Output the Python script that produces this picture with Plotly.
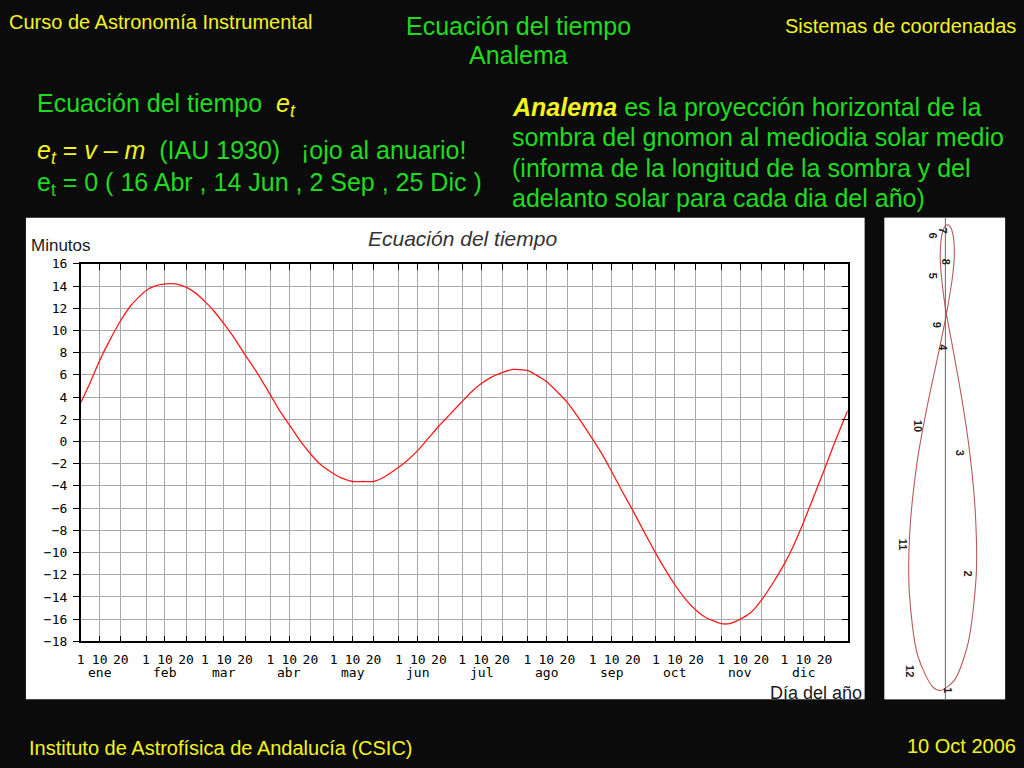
import plotly.graph_objects as go

# ---------------- data ----------------
months = ["ene", "feb", "mar", "abr", "may", "jun", "jul", "ago", "sep", "oct", "nov", "dic"]
month_start_doy = [1, 32, 60, 91, 121, 152, 182, 213, 244, 274, 305, 335]
tick_day_labels = ["1", "10", "20"]
tick_day_offsets = [0, 9, 19]

# Equation of time (minutes) vs day of year
eot_day = [1, 5, 10, 15, 20, 25,
           32, 36, 41, 46, 51, 56,
           60, 64, 69, 74, 79, 84,
           91, 95, 100, 105, 110, 115,
           121, 125, 130, 135, 140, 145,
           152, 156, 161, 166, 171, 176,
           182, 186, 191, 196, 201, 206,
           213, 217, 222, 227, 232, 237,
           244, 248, 253, 258, 263, 268,
           274, 278, 283, 288, 293, 298,
           305, 309, 314, 319, 324, 329,
           335, 339, 344, 349, 354, 359, 365]
eot_min = [3.5, 5.1, 7.3, 9.2, 10.9, 12.3,
           13.6, 14.0, 14.2, 14.2, 13.9, 13.3,
           12.6, 11.8, 10.6, 9.3, 7.8, 6.4,
           4.2, 2.9, 1.5, 0.1, -1.1, -2.1,
           -2.9, -3.3, -3.6, -3.6, -3.6, -3.2,
           -2.3, -1.7, -0.8, 0.3, 1.4, 2.4,
           3.6, 4.4, 5.2, 5.8, 6.2, 6.5,
           6.4, 6.0, 5.4, 4.5, 3.5, 2.2,
           0.2, -1.0, -2.7, -4.5, -6.2, -8.0,
           -10.1, -11.4, -12.9, -14.2, -15.2, -15.9,
           -16.4, -16.4, -16.0, -15.4, -14.3, -12.9,
           -11.0, -9.5, -7.3, -4.9, -2.5, 0.0, 2.8]
y_ticks = [-18, -16, -14, -12, -10, -8, -6, -4, -2, 0, 2, 4, 6, 8, 10, 12, 14, 16]

# Analemma: lateral offset of shadow tip / shadow length (gnomon = 1)
ana_x = [0.028, 0.071, 0.097, 0.094, 0.077, 0.053, 0.022, 0.0005, -0.013, -0.016,
         -0.0096, 0.0012, 0.0066, 0.015, 0.0245, 0.028, 0.021, 0.001, -0.024, -0.058,
         -0.088, -0.112, -0.113, -0.087, -0.040, -0.0155, 0.028]
ana_y = [1.746, 1.625, 1.397, 1.192, 1.000, 0.827, 0.644, 0.521, 0.408, 0.333,
         0.272, 0.247, 0.245, 0.251, 0.281, 0.348, 0.427, 0.552, 0.680, 0.848,
         1.021, 1.262, 1.460, 1.664, 1.767, 1.779, 1.746]
ana_labels = ["7", "6", "8", "5", "9", "4", "10", "3", "11", "2", "12", "1"]
ana_label_x = [-0.006, -0.038, 0.003, -0.038, -0.028, -0.006, -0.088, 0.047, -0.134, 0.072, -0.109, 0.006]
ana_label_y = [0.265, 0.281, 0.368, 0.414, 0.576, 0.650, 0.909, 0.997, 1.298, 1.395, 1.714, 1.779]

# ---------------- figure ----------------
W, H = 1024, 768
def px(x):
    return x / W
def py(y):
    return 1 - y / H

tickvals, ticktext = [], []
for start in month_start_doy:
    for lab, off in zip(tick_day_labels, tick_day_offsets):
        tickvals.append(start + off)
        ticktext.append(lab)

fig = go.Figure()
fig.add_trace(go.Scatter(x=eot_day, y=eot_min, mode="lines",
                         line=dict(color="#ff1a1a", width=1.3, shape="spline", smoothing=0.5),
                         xaxis="x", yaxis="y", showlegend=False, hoverinfo="skip"))
# dummy trace for right-side tick axis
fig.add_trace(go.Scatter(x=[eot_day[0]], y=[eot_min[0]], mode="markers", opacity=0,
                         xaxis="x", yaxis="y3", showlegend=False, hoverinfo="skip"))
# analemma
fig.add_trace(go.Scatter(x=ana_x, y=ana_y, mode="lines",
                         line=dict(color="#b85a5a", width=1.1, shape="spline", smoothing=0.8),
                         xaxis="x2", yaxis="y2", showlegend=False, hoverinfo="skip"))

mono = "DejaVu Sans Mono"
fig.update_layout(
    width=W, height=H, margin=dict(l=0, r=0, t=0, b=0),
    paper_bgcolor="#0b0b0b", plot_bgcolor="white",
    xaxis=dict(domain=[px(77), px(847)], range=[1, 365], anchor="y",
               tickmode="array", tickvals=tickvals, ticktext=ticktext,
               ticks="inside", ticklen=6, tickcolor="black", tickwidth=1,
               showline=True, linecolor="black", linewidth=1.5, mirror="ticks",
               showgrid=True, gridcolor="#a9a9a9", gridwidth=1, zeroline=False,
               ticklabelstandoff=5,
               tickfont=dict(family=mono, size=13, color="black"), tickangle=0),
    yaxis=dict(domain=[py(647), py(262)], range=[-18, 16], anchor="x",
               tickmode="array", tickvals=y_ticks,
               ticks="outside", ticklen=6, tickcolor="black",
               showline=True, linecolor="black", linewidth=1.5, mirror=True,
               showgrid=True, gridcolor="#a9a9a9", gridwidth=1, zeroline=False,
               ticklabelstandoff=3,
               tickfont=dict(family=mono, size=13, color="black")),
    yaxis3=dict(overlaying="y", side="right", range=[-18, 16], anchor="x",
                tickmode="array", tickvals=y_ticks, ticks="inside", ticklen=6,
                tickcolor="black", showticklabels=False, showgrid=False,
                zeroline=False, showline=False),
    xaxis2=dict(domain=[px(884), px(1005)], range=[-0.191, 0.1875], anchor="y2",
                visible=False),
    yaxis2=dict(domain=[py(706), py(215)], range=[1.808, 0.222], anchor="x2",
                visible=False),
)

# month names under the "10" tick of each month
for m, start in zip(months, month_start_doy):
    fig.add_annotation(x=start + 9, y=py(670), xref="x", yref="paper", text=m,
                       showarrow=False, yanchor="top", borderpad=0,
                       font=dict(family=mono, size=13, color="black"))

# white panels
fig.add_shape(type="rect", xref="paper", yref="paper", x0=px(22), x1=px(864),
              y0=py(706), y1=py(215), fillcolor="white", line=dict(width=0), layer="below")
fig.add_shape(type="rect", xref="paper", yref="paper", x0=px(884), x1=px(1005),
              y0=py(706), y1=py(215), fillcolor="white", line=dict(width=0), layer="below")
# analemma meridian line
fig.add_shape(type="line", xref="x2", yref="paper", x0=0, x1=0, y0=py(706), y1=py(215),
              line=dict(color="#666666", width=1))

def ann(x, y, text, size, color, xanchor="left", yanchor="middle", family="Liberation Sans", **kw):
    fig.add_annotation(x=px(x), y=py(y), xref="paper", yref="paper", text=text,
                       showarrow=False, xanchor=xanchor, yanchor=yanchor,
                       font=dict(family=family, size=size, color=color), **kw)

# chart texts
ann(25, 243, "Minutos", 17, "#1a1a1a")
ann(460, 236, "<i>Ecuación del tiempo</i>", 21, "#333333", xanchor="center")
ann(862, 711, "Día del año", 18, "#1a1a1a", xanchor="right", yanchor="bottom", borderpad=0)

for t, xv, yv in zip(ana_labels, ana_label_x, ana_label_y):
    fig.add_annotation(x=xv, y=yv, xref="x2", yref="y2", text="<b>" + t + "</b>",
                       showarrow=False, textangle=90,
                       font=dict(family="Liberation Sans", size=11, color="#222222"))

# slide texts
YEL = "#f4f41c"
GRN = "#1fdc1f"
ann(3, 15, "Curso de Astronomía Instrumental", 20, YEL)
ann(517, 19, "Ecuación del tiempo", 25, GRN, xanchor="center")
ann(517, 49, "Analema", 25, GRN, xanchor="center")
ann(1018, 19, "Sistemas de coordenadas", 20, YEL, xanchor="right")
ann(23, 756, "Instituto de Astrofísica de Andalucía (CSIC)", 20, YEL)
ann(1018, 754, "10 Oct 2006", 20, YEL, xanchor="right")

ann(31, 100, "Ecuación del tiempo  <span style='color:%s'><i>e<sub>t</sub></i></span>" % YEL, 25, GRN)
ann(31, 148, "<span style='color:%s'><i>e<sub>t</sub></i> = <i>v</i> – <i>m</i></span>  (IAU 1930)   ¡ojo al anuario!" % YEL, 25, GRN)
ann(31, 181, "e<sub>t</sub> = 0 ( 16 Abr , 14 Jun , 2 Sep , 25 Dic )", 25, GRN)

ann(508, 102, "<span style='color:%s'><b><i>Analema</i></b></span> es la proyección horizontal de la" % YEL, 25, GRN)
ann(508, 133, "sombra del gnomon al mediodia solar medio", 25, GRN)
ann(508, 164, "(informa de la longitud de la sombra y del", 25, GRN)
ann(508, 195, "adelanto solar para cada dia del año)", 25, GRN)

fig.write_html("out.html", config={"displayModeBar": False},
               post_script="document.body.style.margin='0px';")
